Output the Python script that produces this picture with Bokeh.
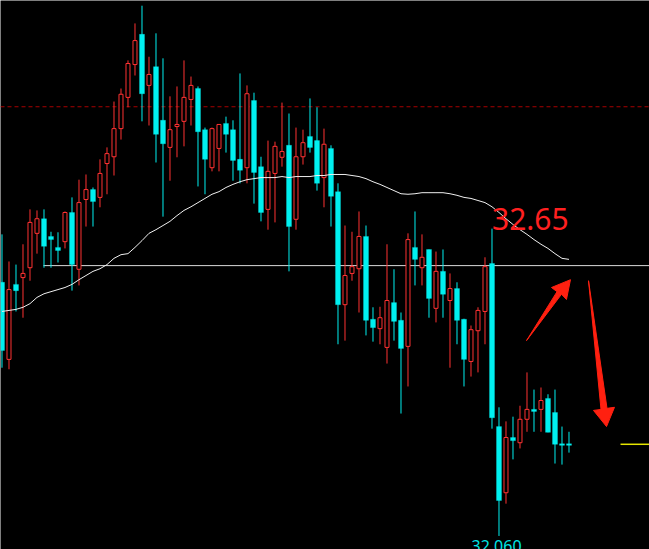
from bokeh.plotting import figure
from bokeh.models import Range1d, ColumnDataSource
from bokeh.core.properties import value
from bokeh.embed import file_html
from bokeh.resources import INLINE

# ---- data ----
opens = [32.547, 32.399, 32.543, 32.556, 32.575, 32.641, 32.669, 32.635, 32.614, 32.625,
         32.681, 32.572, 32.706, 32.725, 32.710, 32.775, 32.788, 32.842, 32.902, 32.965,
         33.023, 32.925, 32.961, 32.858, 32.806, 32.846, 32.856, 32.898, 32.919, 32.840,
         32.767, 32.804, 32.852, 32.840, 32.783, 32.767, 32.896, 32.769, 32.687, 32.756,
         32.787, 32.810, 32.668, 32.788, 32.827, 32.819, 32.748, 32.804, 32.721, 32.504,
         32.564, 32.573, 32.635, 32.476, 32.458, 32.422, 32.508, 32.474, 32.424, 32.614,
         32.575, 32.610, 32.497, 32.568, 32.512, 32.535, 32.476, 32.395, 32.454, 32.491,
         32.583, 32.270, 32.143, 32.249, 32.239, 32.284, 32.303, 32.303, 32.324, 32.297,
         32.237, 32.237]
highs = [32.639, 32.587, 32.581, 32.620, 32.687, 32.685, 32.687, 32.644, 32.643, 32.683,
         32.710, 32.744, 32.754, 32.729, 32.783, 32.806, 32.894, 32.919, 32.973, 33.044,
         33.078, 32.980, 33.025, 32.977, 32.904, 32.923, 32.973, 32.942, 32.923, 32.844,
         32.844, 32.850, 32.865, 32.858, 32.948, 32.925, 32.911, 32.788, 32.819, 32.817,
         32.892, 32.871, 32.844, 32.840, 32.900, 32.883, 32.842, 32.810, 32.737, 32.656,
         32.644, 32.683, 32.656, 32.499, 32.500, 32.620, 32.572, 32.489, 32.641, 32.683,
         32.639, 32.610, 32.606, 32.610, 32.564, 32.547, 32.477, 32.464, 32.499, 32.595,
         32.650, 32.307, 32.280, 32.289, 32.310, 32.374, 32.341, 32.345, 32.332, 32.341,
         32.270, 32.260]
lows = [32.383, 32.380, 32.491, 32.479, 32.550, 32.602, 32.575, 32.575, 32.585, 32.612,
        32.531, 32.541, 32.654, 32.654, 32.691, 32.716, 32.752, 32.821, 32.883, 32.944,
        32.856, 32.848, 32.777, 32.673, 32.742, 32.787, 32.808, 32.848, 32.731, 32.716,
        32.760, 32.760, 32.796, 32.742, 32.737, 32.737, 32.698, 32.664, 32.648, 32.662,
        32.769, 32.568, 32.648, 32.773, 32.796, 32.723, 32.691, 32.654, 32.428, 32.435,
        32.550, 32.489, 32.445, 32.433, 32.428, 32.391, 32.435, 32.295, 32.347, 32.541,
        32.541, 32.479, 32.470, 32.479, 32.383, 32.428, 32.347, 32.366, 32.374, 32.428,
        32.266, 32.060, 32.122, 32.207, 32.228, 32.260, 32.260, 32.260, 32.259, 32.199,
        32.197, 32.220]
closes = [32.416, 32.533, 32.531, 32.564, 32.662, 32.669, 32.616, 32.629, 32.608, 32.681,
          32.581, 32.700, 32.725, 32.702, 32.756, 32.794, 32.842, 32.908, 32.967, 33.011,
          32.909, 32.946, 32.831, 32.813, 32.840, 32.850, 32.902, 32.925, 32.836, 32.783,
          32.842, 32.850, 32.831, 32.781, 32.762, 32.909, 32.758, 32.681, 32.760, 32.808,
          32.798, 32.654, 32.788, 32.815, 32.806, 32.737, 32.812, 32.712, 32.504, 32.560,
          32.577, 32.635, 32.474, 32.460, 32.479, 32.512, 32.472, 32.420, 32.629, 32.591,
          32.595, 32.516, 32.568, 32.524, 32.535, 32.474, 32.399, 32.456, 32.493, 32.577,
          32.287, 32.128, 32.249, 32.243, 32.284, 32.303, 32.299, 32.320, 32.259, 32.236,
          32.234, 32.234]
ma_line = [32.491, 32.493, 32.495, 32.499, 32.506, 32.518, 32.525, 32.529, 32.533, 32.537,
           32.543, 32.552, 32.560, 32.568, 32.573, 32.581, 32.593, 32.600, 32.602, 32.614,
           32.627, 32.641, 32.648, 32.656, 32.664, 32.675, 32.685, 32.692, 32.700, 32.708,
           32.716, 32.721, 32.729, 32.735, 32.740, 32.744, 32.746, 32.748, 32.748, 32.748,
           32.750, 32.748, 32.750, 32.750, 32.750, 32.752, 32.752, 32.754, 32.754, 32.754,
           32.752, 32.750, 32.746, 32.740, 32.735, 32.729, 32.723, 32.717, 32.716, 32.717,
           32.719, 32.719, 32.719, 32.719, 32.717, 32.714, 32.710, 32.708, 32.704, 32.700,
           32.692, 32.681, 32.669, 32.658, 32.648, 32.639, 32.629, 32.620, 32.612, 32.602,
           32.593, 32.591]

dashed_level = 32.884
support_level = 32.579
support_start = 5.93
yellow_level = 32.236
yellow_start = 88.36
high_label = "32.65"
high_label_pos = (70.0, 32.668)
low_label = "32.060"
low_label_pos = (67.07, 32.040)

arrow_up_x = [74.93, 79.29, 78.50, 81.21, 80.64, 79.93]
arrow_up_y = [32.435, 32.529, 32.537, 32.552, 32.514, 32.524]
arrow_down_x = [83.79, 85.57, 84.50, 86.36, 87.50, 86.43]
arrow_down_y = [32.550, 32.303, 32.301, 32.270, 32.307, 32.305]

x_min, x_max = -0.214, 92.5
y_min, y_max = 32.034, 33.088

RED = "#ff3232"
CYAN = "#00f0f0"

idx = list(range(len(opens)))
up = [c > o for o, c in zip(opens, closes)]

def pick(mask):
    d = dict(x=[], o=[], h=[], l=[], c=[], top=[], bot=[])
    for i, m in enumerate(mask):
        if m:
            d["x"].append(idx[i]); d["o"].append(opens[i]); d["h"].append(highs[i])
            d["l"].append(lows[i]); d["c"].append(closes[i])
            d["top"].append(max(opens[i], closes[i])); d["bot"].append(min(opens[i], closes[i]))
    return ColumnDataSource(d)

src_up = pick(up)
src_dn = pick([not u for u in up])

p = figure(width=649, height=549, output_backend="svg", toolbar_location=None,
           x_range=Range1d(x_min, x_max), y_range=Range1d(y_min, y_max),
           background_fill_color="black", border_fill_color="black", min_border=0)
p.outline_line_color = None
p.axis.visible = False
p.grid.visible = False

# horizontal levels
p.segment(x0=[x_min], x1=[x_max], y0=[dashed_level], y1=[dashed_level],
          line_color="#a80000", line_width=1, line_dash="4 3")
p.segment(x0=[support_start], x1=[x_max], y0=[support_level], y1=[support_level],
          line_color="#dcdcdc", line_width=1)
p.segment(x0=[yellow_start], x1=[x_max], y0=[yellow_level], y1=[yellow_level],
          line_color="#e6e600", line_width=1.5)

# wicks
p.segment(x0="x", x1="x", y0="h", y1="l", source=src_dn, line_color=CYAN, line_width=1)
p.segment(x0="x", x1="x", y0="h", y1="l", source=src_up, line_color=RED, line_width=1)
# bodies
p.vbar(x="x", top="top", bottom="bot", width=5 / 7, source=src_dn,
       fill_color=CYAN, line_color=CYAN, line_width=0.3)
p.vbar(x="x", top="top", bottom="bot", width=4 / 7, source=src_up,
       fill_color="black", line_color=RED, line_width=1)

# moving average
p.line(idx, ma_line, line_color="#f0f0f0", line_width=1)

# arrows
p.patch(arrow_up_x, arrow_up_y, fill_color="#ff2010", line_color="#ff2010", line_width=1)
p.patch(arrow_down_x, arrow_down_y, fill_color="#ff2010", line_color="#ff2010", line_width=1)

# labels
p.text(x=[high_label_pos[0]], y=[high_label_pos[1]], text=[high_label],
       text_color="#ff2020", text_font=value("Noto Sans"), text_font_size="30px",
       text_baseline="alphabetic", text_align="left")
p.text(x=[low_label_pos[0]], y=[low_label_pos[1]], text=[low_label],
       text_color="#00e5e5", text_font=value("Noto Sans"), text_font_size="16px",
       text_baseline="alphabetic", text_align="left")

open("out.html", "w").write(file_html(p, INLINE))
